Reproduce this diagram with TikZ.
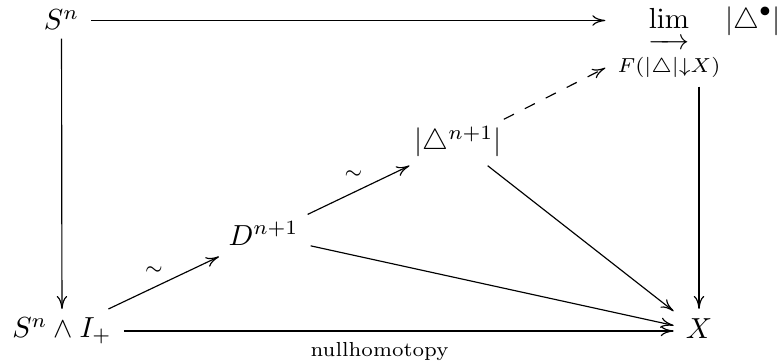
\documentclass[tikz,border=0pt]{standalone}
\usepackage{amsmath}
\usetikzlibrary{arrows.meta}
\newcommand{\myinjlim}{\mathop{\vtop{\offinterlineskip\halign{\hfil##\hfil\cr$\mathrm{lim}$\cr\noalign{\kern3.6pt}\rightarrowfill\cr}}}\limits}
\tikzset{
  obj/.style={inner xsep=4pt, inner ysep=2.8pt},
  arr/.style={line width=0.4pt, -{Computer Modern Rightarrow[length=4.5pt,width=3.6pt]}},
  lbl/.style={inner sep=0pt, font=\scriptsize},
}
\begin{document}
\begin{tikzpicture}[x=0.3448pt,y=-0.3448pt]
\useasboundingbox (0,0) rectangle (781,362);
\node[obj,text height=6.5pt,text depth=0pt] (S) at (61.5,20.5) {$S^n$};
\node[obj,text height=22.4pt,text depth=17.2pt] (L) at (699,20.5) {$\displaystyle\myinjlim_{\rule{0pt}{6.5pt}F(|\triangle|\downarrow X)}|\triangle^\bullet|$};
\node[obj,text height=7.5pt,text depth=2.5pt] (T) at (458,142.5) {$|\triangle^{n+1}|$};
\node[obj,text height=7.55pt,text depth=1pt] (D) at (263.5,235.5) {$D^{n+1}$};
\node[obj] (SI) at (62,331) {$S^n\wedge I_+$};
\node[obj,text height=7.1pt,text depth=2.1pt] (X) at (699,331) {$X$};
\draw[arr] (S) -- (L);
\draw[arr] (S) -- (SI);
\draw[arr] (L) -- (X);
\draw[arr] (SI) -- node[lbl,pos=0.47,xshift=-2.23pt,yshift=4.7pt]{$\sim$} (D);
\draw[arr] (D) -- node[lbl,pos=0.516,xshift=-2.35pt,yshift=4.9pt]{$\sim$} (T);
\draw[arr,dash pattern=on 3.9pt off 4.2pt] (T) -- (L);
\draw[arr] (T) -- (X);
\draw[arr] (D) -- (X);
\draw[arr] (SI) -- node[lbl,pos=0.465,anchor=north,yshift=-3.8pt]{nullhomotopy} (X);
\end{tikzpicture}
\end{document}
